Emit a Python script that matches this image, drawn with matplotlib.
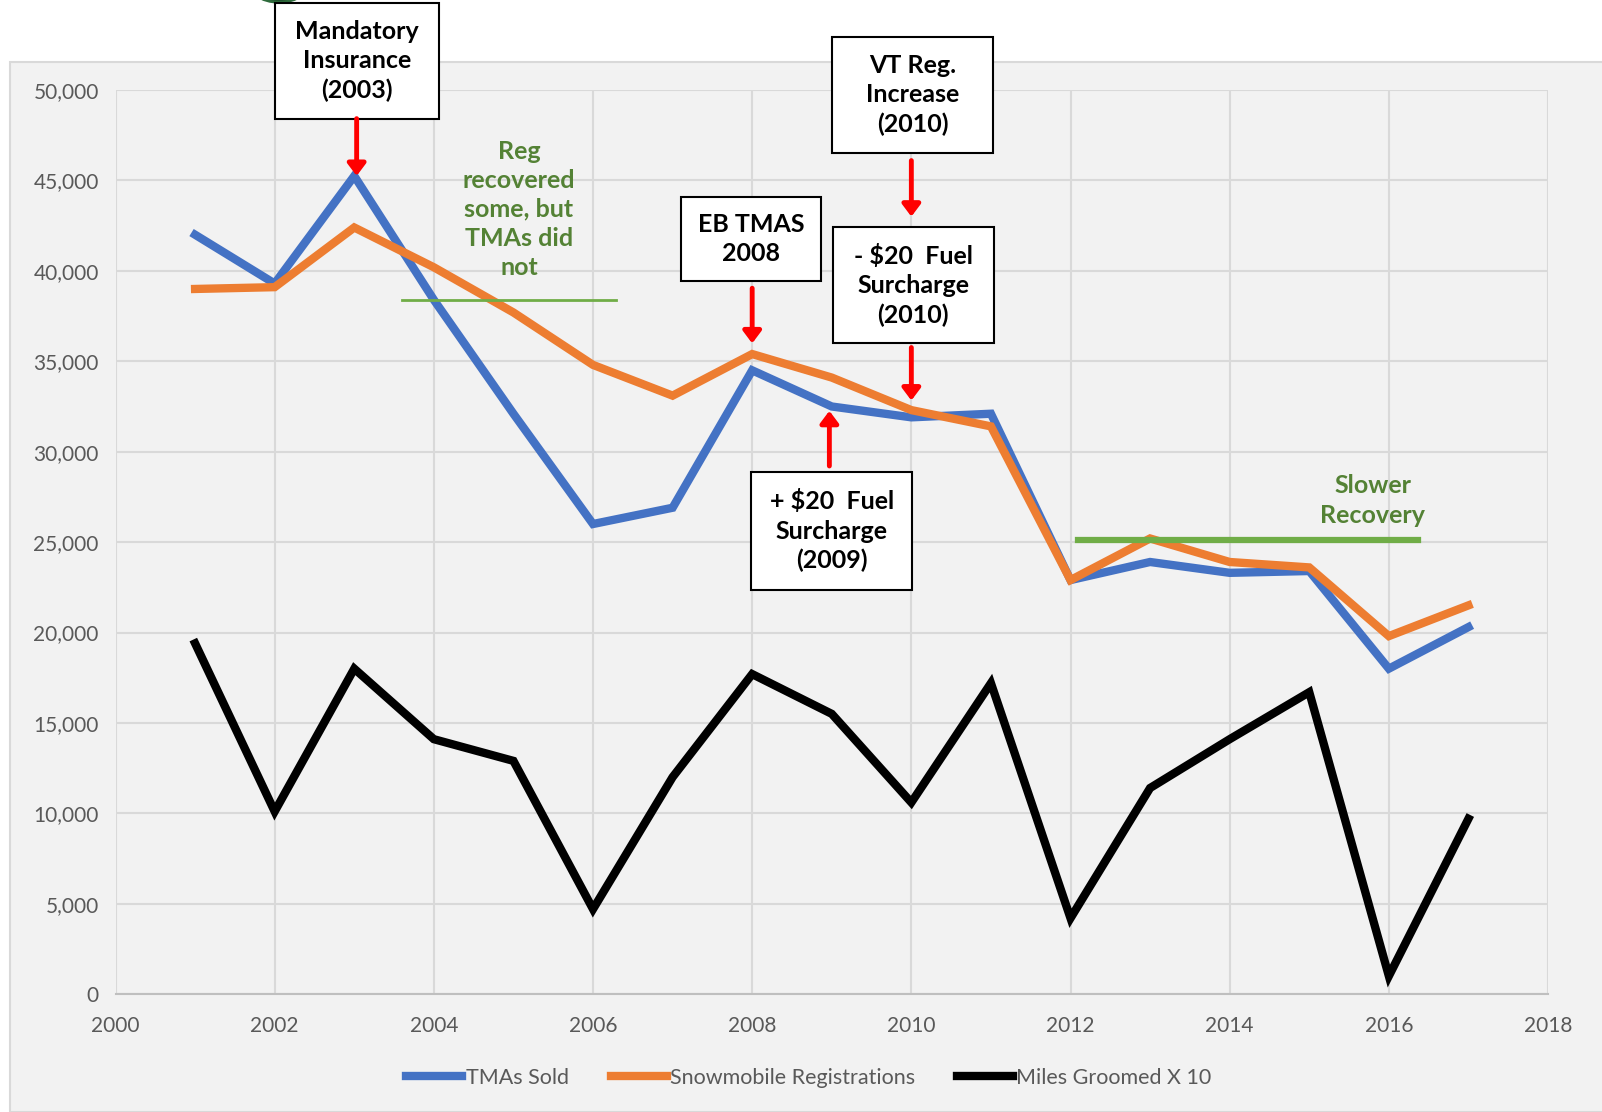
import numpy as np
import matplotlib.pyplot as plt
from matplotlib.patches import Rectangle, Circle

# data
years = list(range(2001, 2018))
tmas_sold = [42000, 39300, 45250, 38400, 32100, 26000, 26900, 34500, 32500,
             31900, 32100, 22900, 23900, 23300, 23400, 18000, 20300]
registrations = [39000, 39100, 42400, 40200, 37700, 34800, 33100, 35400, 34100,
                 32300, 31400, 22900, 25200, 23900, 23600, 19800, 21500]
miles_groomed = [19400, 10100, 18000, 14100, 12900, 4700, 12000, 17700, 15500,
                 10600, 17200, 4200, 11400, 14100, 16700, 1000, 9700]

series_labels = ['TMAs Sold', 'Snowmobile Registrations', 'Miles Groomed X 10']
series_colors = ['#4472C4', '#ED7D31', '#000000']

# event boxes: text, (x0, x1), (y0, y1)
boxes = [
    ('Mandatory\nInsurance\n(2003)', (2002.00, 2004.07), (48420, 54800)),
    ('VT Reg.\nIncrease\n(2010)', (2009.00, 2011.03), (46500, 52940)),
    ('EB TMAS\n2008', (2007.10, 2008.87), (39440, 44070)),
    ('- $20  Fuel\nSurcharge\n(2010)', (2009.01, 2011.04), (35990, 42430)),
    ('+ $20  Fuel\nSurcharge\n(2009)', (2007.99, 2010.01), (22370, 28870)),
]
# red arrows: x, y start, y end (head)
arrows = [
    (2003.03, 48420, 45250),
    (2010.00, 46100, 43000),
    (2008.00, 39040, 35990),
    (2010.00, 35760, 32830),
    (2008.97, 29210, 32260),
]

plt.rcParams['font.family'] = ['Lato', 'DejaVu Sans']

fig = plt.figure(figsize=(16.02, 11.12), dpi=100)
fig.patch.set_facecolor('white')
bg = Rectangle((10 / 1602, 0), 1, 1 - 62 / 1112, transform=fig.transFigure,
               facecolor='#f2f2f2', edgecolor='#d9d9d9', lw=1.5, zorder=-2)
fig.patches.append(bg)
# bit of the logo peeking in at the top
logo = Circle((279 / 1602, 1 + 20 / 1112), 0.02, transform=fig.transFigure,
              facecolor='#1e4d2b', edgecolor='#2e6b3c', lw=2, zorder=-1)
fig.patches.append(logo)

ax = fig.add_axes([0.0721, 0.106, 0.8942, 0.813])
ax.set_facecolor('#f2f2f2')

for vals, lab, col in zip([tmas_sold, registrations, miles_groomed], series_labels, series_colors):
    ax.plot(years, vals, color=col, lw=6, label=lab, solid_joinstyle='miter', zorder=3)

ax.set_xlim(2000, 2018)
ax.set_ylim(0, 50000)
ax.set_xticks(range(2000, 2019, 2))
ax.set_yticks(range(0, 50001, 5000))
ax.set_yticklabels([f'{v:,}' for v in range(0, 50001, 5000)])
ax.grid(True, color='#d9d9d9', lw=1.5)
ax.set_axisbelow(True)
for s in ['top', 'right', 'left']:
    ax.spines[s].set_visible(False)
ax.spines['bottom'].set_color('#bfbfbf')
ax.spines['bottom'].set_linewidth(1.5)
ax.tick_params(length=0, labelsize=15, colors='#595959', pad=12)
ax.tick_params(axis='x', pad=16)

# green notes
ax.plot([2003.6, 2006.29], [38400, 38400], color='#70AD47', lw=2, zorder=4)
ax.text(2005.07, 43400, 'Reg\nrecovered\nsome, but\nTMAs did\nnot', color='#548235',
        fontsize=18, fontweight='bold', ha='center', va='center', linespacing=1.32)
ax.plot([2012.1, 2016.37], [25100, 25100], color='#70AD47', lw=4.5, zorder=4)
ax.text(2015.8, 27300, 'Slower\nRecovery', color='#548235',
        fontsize=18, fontweight='bold', ha='center', va='center', linespacing=1.32)

for txt, (x0, x1), (y0, y1) in boxes:
    ax.add_patch(Rectangle((x0, y0), x1 - x0, y1 - y0, facecolor='white',
                           edgecolor='black', lw=1.5, zorder=5, clip_on=False))
    ax.text((x0 + x1) / 2, (y0 + y1) / 2, txt, fontsize=18, fontweight='bold',
            ha='center', va='center', linespacing=1.32, zorder=6, clip_on=False)

for x, ys, ye in arrows:
    ax.annotate('', xy=(x, ye), xytext=(x, ys), zorder=6, annotation_clip=False,
                arrowprops=dict(arrowstyle='-|>,head_width=0.3,head_length=0.4',
                                color='#ff0000', lw=3.5, shrinkA=0, shrinkB=0,
                                mutation_scale=18))

ax.legend(loc='lower center', bbox_to_anchor=(0.484, -0.125), ncol=3, frameon=False,
          fontsize=15.5, labelcolor='#595959', handlelength=2.6, handletextpad=0.15,
          columnspacing=1.95)

fig.savefig('out.png', dpi=100, facecolor=fig.get_facecolor())
